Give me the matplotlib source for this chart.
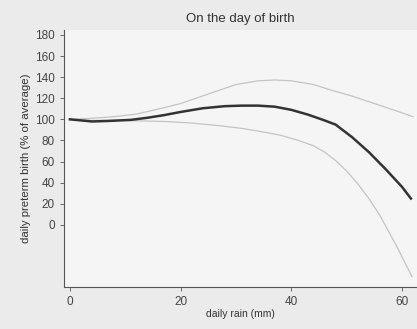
import matplotlib
matplotlib.use("Agg")
import matplotlib.pyplot as plt

plt.rcParams["font.family"] = ["Liberation Sans", "DejaVu Sans"]

# values
rain_main = [0, 2, 4, 7, 11, 14, 17, 20, 24, 28, 31, 34, 37, 40, 43, 46, 48, 51, 54, 57, 60, 61.6]
birth_main = [100, 99, 98, 98.5, 99.5, 101.5, 104, 107, 110.5, 112.5, 113, 113, 112, 109,
              104.5, 99, 95, 83, 69, 53, 36, 25]

rain_upper = [0, 4, 8, 12, 17, 20, 25, 30, 34, 37, 40, 44, 47, 51, 55, 59, 62]
birth_upper = [100, 101, 102.5, 105, 111, 115, 124, 133, 136.5, 137.3, 136.5, 133, 128,
               122, 115, 108, 102.5]

rain_lower = [0, 4, 8, 13, 17, 22, 27, 31, 35, 38, 41, 44, 46, 48, 50, 52, 54, 56, 59, 61.8]
birth_lower = [100, 99, 99, 98.5, 98, 96.5, 94, 91.5, 88, 85, 80.5, 75, 69, 61, 51, 39, 25, 9, -20, -49]

xticks = [0, 20, 40, 60]
yticks = [0, 20, 40, 60, 80, 100, 120, 140, 160, 180]

fig = plt.figure(figsize=(4.17, 3.29), dpi=100, facecolor="#ebebeb")
ax = fig.add_axes([0.153, 0.128, 0.847, 0.781], facecolor="#f5f5f5")

ax.plot(rain_upper, birth_upper, color="#c4c4c4", lw=0.9)
ax.plot(rain_lower, birth_lower, color="#c4c4c4", lw=0.9)
ax.plot(rain_main, birth_main, color="#333333", lw=1.8)

ax.set_xlim(-1.1, 62.7)
ax.set_ylim(-58.7, 184.7)
ax.set_xticks(xticks)
ax.set_yticks(yticks)

for s in ["top", "right"]:
    ax.spines[s].set_visible(False)
for s in ["left", "bottom"]:
    ax.spines[s].set_color("#555555")
    ax.spines[s].set_linewidth(0.8)

ax.tick_params(labelsize=8.5, colors="#555555", length=3, width=0.6, labelcolor="#444444")

ax.set_title("On the day of birth", fontsize=9.5, color="#333333", pad=6)
ax.set_xlabel("daily rain (mm)", fontsize=7.5, color="#333333", labelpad=1)
ax.set_ylabel("daily preterm birth (% of average)", fontsize=8.2, color="#333333", labelpad=3)

fig.savefig("out.png", dpi=100, facecolor=fig.get_facecolor())
